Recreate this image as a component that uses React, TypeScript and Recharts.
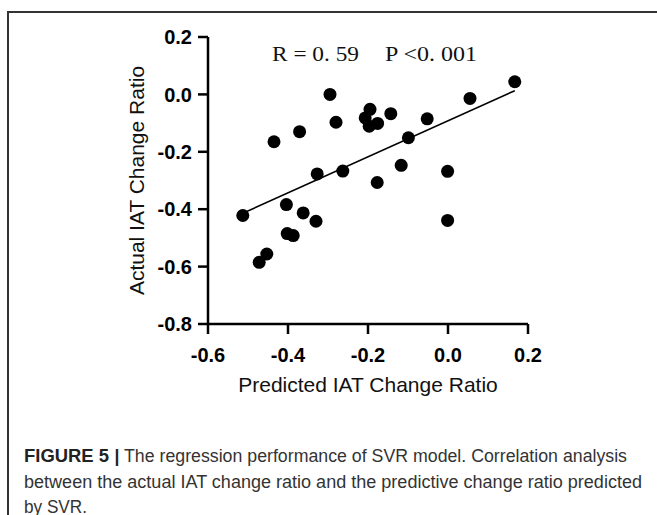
import React from 'react';
import {
  ScatterChart,
  Scatter,
  XAxis,
  YAxis,
  ReferenceLine,
  Customized,
} from 'recharts';

// Predicted IAT change ratio (x) and actual IAT change ratio (y)
const predicted = [
  -0.513, -0.472, -0.453, -0.435, -0.404, -0.402, -0.387, -0.371, -0.362,
  -0.33, -0.327, -0.295, -0.28, -0.263, -0.207, -0.197, -0.195, -0.176,
  -0.177, -0.143, -0.117, -0.099, -0.052, -0.001, -0.001, 0.055, 0.167,
];
const actual = [
  -0.422, -0.585, -0.556, -0.165, -0.384, -0.485, -0.492, -0.13, -0.413,
  -0.442, -0.277, 0.0, -0.097, -0.267, -0.082, -0.111, -0.052, -0.101,
  -0.307, -0.067, -0.247, -0.151, -0.085, -0.268, -0.439, -0.014, 0.044,
];

// Fitted regression line end points
const fitX = [-0.513, 0.167];
const fitY = [-0.414, 0.013];

const xTicks = [-0.6, -0.4, -0.2, 0, 0.2];
const yTicks = [-0.8, -0.6, -0.4, -0.2, 0, 0.2];

const xTitle = 'Predicted IAT Change Ratio';
const yTitle = 'Actual IAT Change Ratio';
const statR = 'R = 0. 59';
const statP = 'P <0. 001';

const captionBold = 'FIGURE 5';
const captionLine1 = 'The regression performance of SVR model. Correlation analysis';
const captionLine2 =
  'between the actual IAT change ratio and the predictive change ratio predicted';
const captionLine3 = 'by SVR.';

const points = predicted.map((x, i) => ({ x, y: actual[i] }));

const SANS = '"Liberation Sans", Arial, sans-serif';
const SERIF = '"Liberation Serif", "Times New Roman", serif';

const tickStyle = {
  fontFamily: SANS,
  fontWeight: 700,
  fontSize: 20,
  fill: '#000',
};

const fmt = (v: number) => v.toFixed(1);

const Dot = (props: any) => (
  <circle cx={props.cx} cy={props.cy} r={6.5} fill="#000" />
);

const Stats = () => (
  <g>
    <text
      x={272}
      y={60.5}
      fontFamily={SERIF}
      fontSize={21}
      fill="#111"
      textLength={87}
      lengthAdjust="spacingAndGlyphs"
    >
      {statR}
    </text>
    <text
      x={385}
      y={60.5}
      fontFamily={SERIF}
      fontSize={21}
      fill="#111"
      textLength={92}
      lengthAdjust="spacingAndGlyphs"
    >
      {statP}
    </text>
  </g>
);

export default function App() {
  return (
    <div
      style={{
        position: 'absolute',
        left: 0,
        top: 0,
        width: 657,
        height: 515,
        overflow: 'hidden',
        background: '#fff',
      }}
    >
      <div
        style={{
          position: 'absolute',
          left: 7,
          top: 11,
          width: 800,
          height: 700,
          borderLeft: '2px solid #333',
          borderTop: '2px solid #333',
        }}
      />
      <div style={{ position: 'absolute', left: 0, top: 0 }}>
        <ScatterChart
          width={657}
          height={515}
          margin={{ top: 37, right: 129, bottom: 131, left: 148 }}
        >
          <XAxis
            type="number"
            dataKey="x"
            domain={[-0.6, 0.2]}
            ticks={xTicks}
            tickFormatter={fmt}
            interval={0}
            height={60}
            tickSize={10}
            tickMargin={14}
            tick={tickStyle}
            axisLine={{ stroke: '#000', strokeWidth: 2.5 }}
            tickLine={{ stroke: '#000', strokeWidth: 2.5 }}
            allowDataOverflow
            label={{
              value: xTitle,
              position: 'center',
              dy: 31,
              style: { fontFamily: SANS, fontSize: 21, fill: '#111' },
            }}
          />
          <YAxis
            type="number"
            dataKey="y"
            domain={[-0.8, 0.2]}
            ticks={yTicks}
            tickFormatter={fmt}
            interval={0}
            width={60}
            tickSize={10}
            tickMargin={6}
            tick={tickStyle}
            axisLine={{ stroke: '#000', strokeWidth: 2.5 }}
            tickLine={{ stroke: '#000', strokeWidth: 2.5 }}
            allowDataOverflow
            label={{
              value: yTitle,
              position: 'center',
              angle: -90,
              dx: -41,
              style: { fontFamily: SANS, fontSize: 21, fill: '#111' },
            }}
          />
          <ReferenceLine
            segment={[
              { x: fitX[0], y: fitY[0] },
              { x: fitX[1], y: fitY[1] },
            ]}
            stroke="#000"
            strokeWidth={1.6}
          />
          <Scatter
            data={points}
            shape={Dot}
            isAnimationActive={false}
          />
          <Customized component={Stats} />
        </ScatterChart>
      </div>
      <svg
        width={657}
        height={515}
        style={{ position: 'absolute', left: 0, top: 0, pointerEvents: 'none' }}
      >
        <text
          x={24}
          y={462}
          fontFamily={SANS}
          fontWeight={700}
          fontSize={17.5}
          fill="#222"
          textLength={85}
          lengthAdjust="spacingAndGlyphs"
        >
          {captionBold}
        </text>
        <text x={114.5} y={462} fontFamily={SANS} fontWeight={700} fontSize={17.5} fill="#222">
          |
        </text>
        <text
          x={124}
          y={462}
          fontFamily={SANS}
          fontSize={17.5}
          fill="#333"
          textLength={503}
          lengthAdjust="spacingAndGlyphs"
        >
          {captionLine1}
        </text>
        <text
          x={24}
          y={487.5}
          fontFamily={SANS}
          fontSize={17.5}
          fill="#333"
          textLength={618}
          lengthAdjust="spacingAndGlyphs"
        >
          {captionLine2}
        </text>
        <text
          x={24}
          y={512.5}
          fontFamily={SANS}
          fontSize={17.5}
          fill="#333"
          textLength={63}
          lengthAdjust="spacingAndGlyphs"
        >
          {captionLine3}
        </text>
      </svg>
    </div>
  );
}
